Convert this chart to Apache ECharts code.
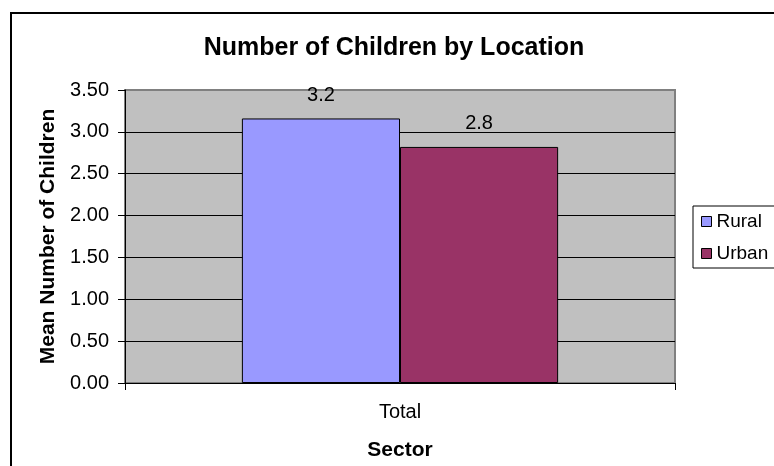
<!DOCTYPE html>
<html>
<head>
<meta charset="utf-8">
<script src="https://cdn.jsdelivr.net/npm/echarts@6/dist/echarts.min.js"></script>
<style>
html,body{margin:0;padding:0;background:#fff;}
#chart{width:774px;height:466px;}
</style>
</head>
<body>
<div id="chart"></div>
<script>
var chartTitle = 'Number of Children by Location';
var categories = ['Total'];
var seriesNames = ['Rural', 'Urban'];
var ruralValues = [3.16];
var urbanValues = [2.82];
var seriesColors = ['#9999FF', '#993366'];
var yTicks = [0, 0.5, 1, 1.5, 2, 2.5, 3, 3.5];
var xAxisTitle = 'Sector';
var yAxisTitle = 'Mean Number of Children';

var FONT = 'Liberation Sans, Arial, sans-serif';
var chart = echarts.init(document.getElementById('chart'), null, {renderer: 'canvas'});

function barSeries(name, data, color) {
  return {
    name: name,
    type: 'bar',
    data: data,
    barGap: '0%',
    barCategoryGap: '42.5%',
    itemStyle: {color: color, borderColor: '#000', borderWidth: 1},
    label: {
      show: true,
      position: 'top',
      distance: 13,
      color: '#000',
      fontFamily: FONT,
      fontSize: 20,
      formatter: function (p) { return p.value.toFixed(1); }
    }
  };
}

var option = {
  animation: false,
  backgroundColor: '#fff',
  graphic: [
    {type: 'rect', shape: {x: 11, y: 13, width: 820, height: 520},
     style: {fill: 'none', stroke: '#000', lineWidth: 2}, z: 0},
    {type: 'text', x: 394, y: 48,
     style: {text: chartTitle, fontFamily: FONT, fontSize: 25, fontWeight: 'bold',
             fill: '#000', textAlign: 'center', textVerticalAlign: 'middle'}, z: 10}
  ],
  legend: {
    orient: 'vertical',
    left: 693,
    top: 206,
    padding: [6, 8, 5, 8],
    itemWidth: 10,
    itemHeight: 10,
    itemGap: 13,
    icon: 'rect',
    backgroundColor: '#fff',
    borderColor: '#000',
    borderWidth: 1,
    itemStyle: {borderColor: '#000', borderWidth: 1},
    textStyle: {fontFamily: FONT, fontSize: 19, color: '#000', padding: [0,0,0,0]},
    data: seriesNames
  },
  grid: {
    left: 125, right: 99, top: 90, bottom: 83,
    show: true,
    backgroundColor: '#C0C0C0',
    borderColor: '#808080',
    borderWidth: 2,
    containLabel: false
  },
  xAxis: {
    type: 'category',
    data: categories,
    name: xAxisTitle,
    nameLocation: 'middle',
    nameGap: 57,
    nameTextStyle: {fontFamily: FONT, fontSize: 21, fontWeight: 'bold', color: '#000'},
    axisLine: {show: true, lineStyle: {color: '#000', width: 1}},
    axisTick: {show: true, alignWithLabel: false, length: 7, lineStyle: {color: '#000'}},
    axisLabel: {fontFamily: FONT, fontSize: 20, color: '#000', margin: 19},
    splitLine: {show: false}
  },
  yAxis: {
    type: 'value',
    min: yTicks[0],
    max: yTicks[yTicks.length - 1],
    interval: 0.5,
    name: yAxisTitle,
    nameLocation: 'middle',
    nameGap: 65,
    nameTextStyle: {fontFamily: FONT, fontSize: 21, fontWeight: 'bold', color: '#000'},
    axisLine: {show: true, lineStyle: {color: '#000', width: 1}},
    axisTick: {show: true, length: 7, lineStyle: {color: '#000'}},
    axisLabel: {fontFamily: FONT, fontSize: 20, color: '#000', margin: 16,
                formatter: function (v) { return v.toFixed(2); }},
    splitLine: {show: true, showMaxLine: false, lineStyle: {color: '#000', width: 1}}
  },
  series: [
    barSeries(seriesNames[0], ruralValues, seriesColors[0]),
    barSeries(seriesNames[1], urbanValues, seriesColors[1])
  ]
};
chart.setOption(option);
</script>
</body>
</html>
